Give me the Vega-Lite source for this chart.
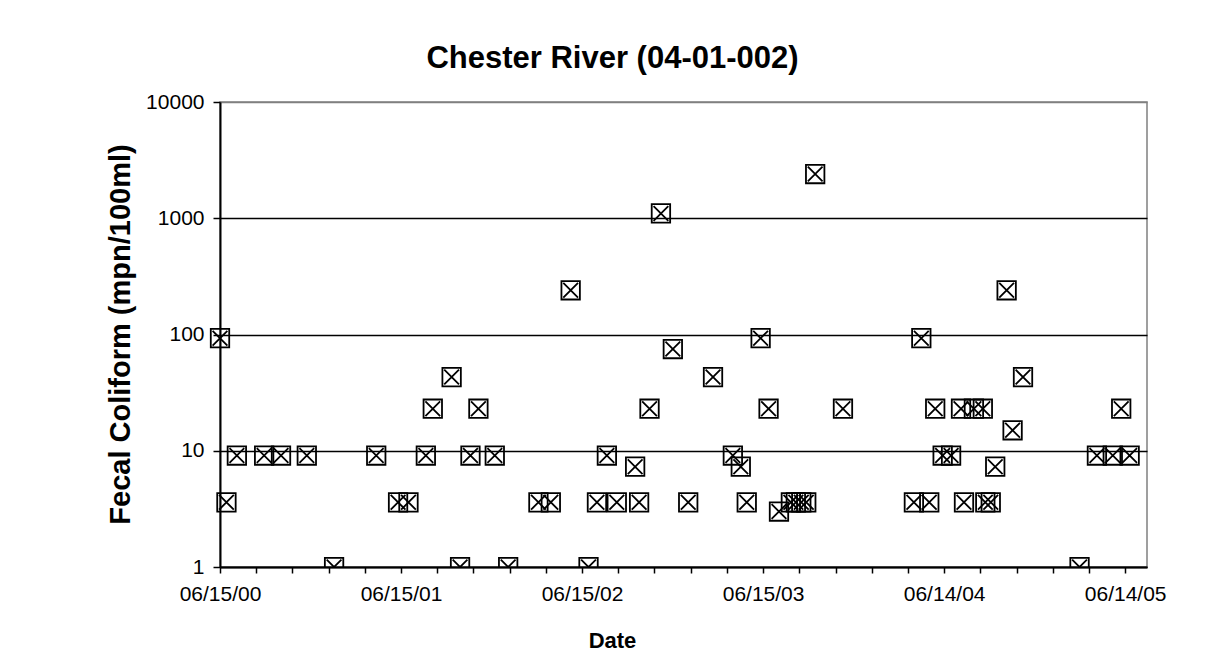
{
  "$schema": "https://vega.github.io/schema/vega-lite/v6.json",
  "width": 927,
  "height": 465,
  "autosize": {"type": "none"},
  "padding": {"left": 220, "top": 102, "right": 68, "bottom": 91},
  "background": "white",
  "config": {
    "font": "Liberation Sans",
    "view": {"stroke": "#808080", "strokeWidth": 1.5}
  },
  "title": {
    "text": "Chester River (04-01-002)",
    "font": "Liberation Sans",
    "fontSize": 31,
    "fontWeight": "bold",
    "color": "black",
    "anchor": "middle",
    "dx": -71,
    "dy": 43,
    "baseline": "alphabetic",
    "offset": 35
  },
  "data": {
    "values": [
      {"d": "2000-06-15", "v": 93},
      {"d": "2000-06-28", "v": 3.6},
      {"d": "2000-07-19", "v": 9.1},
      {"d": "2000-09-12", "v": 9.1},
      {"d": "2000-10-16", "v": 9.1},
      {"d": "2000-12-07", "v": 9.1},
      {"d": "2001-01-31", "v": 1},
      {"d": "2001-04-26", "v": 9.1},
      {"d": "2001-06-09", "v": 3.6},
      {"d": "2001-06-30", "v": 3.6},
      {"d": "2001-08-04", "v": 9.1},
      {"d": "2001-08-18", "v": 23},
      {"d": "2001-09-25", "v": 43},
      {"d": "2001-10-12", "v": 1},
      {"d": "2001-11-02", "v": 9.1},
      {"d": "2001-11-18", "v": 23},
      {"d": "2001-12-21", "v": 9.1},
      {"d": "2002-01-17", "v": 1},
      {"d": "2002-03-19", "v": 3.6},
      {"d": "2002-04-13", "v": 3.6},
      {"d": "2002-05-23", "v": 240},
      {"d": "2002-06-28", "v": 1},
      {"d": "2002-07-15", "v": 3.6},
      {"d": "2002-08-04", "v": 9.1},
      {"d": "2002-08-24", "v": 3.6},
      {"d": "2002-09-30", "v": 7.3},
      {"d": "2002-10-08", "v": 3.6},
      {"d": "2002-10-29", "v": 23},
      {"d": "2002-11-21", "v": 1100},
      {"d": "2002-12-15", "v": 75},
      {"d": "2003-01-15", "v": 3.6},
      {"d": "2003-03-06", "v": 43},
      {"d": "2003-04-15", "v": 9.1},
      {"d": "2003-05-01", "v": 7.3},
      {"d": "2003-05-13", "v": 3.6},
      {"d": "2003-06-10", "v": 93},
      {"d": "2003-06-26", "v": 23},
      {"d": "2003-07-17", "v": 3.0},
      {"d": "2003-08-10", "v": 3.6},
      {"d": "2003-08-20", "v": 3.6},
      {"d": "2003-08-31", "v": 3.6},
      {"d": "2003-09-10", "v": 3.6},
      {"d": "2003-09-28", "v": 2400},
      {"d": "2003-11-23", "v": 23},
      {"d": "2004-04-14", "v": 3.6},
      {"d": "2004-04-29", "v": 93},
      {"d": "2004-05-15", "v": 3.6},
      {"d": "2004-05-27", "v": 23},
      {"d": "2004-06-11", "v": 9.1},
      {"d": "2004-06-28", "v": 9.1},
      {"d": "2004-07-18", "v": 23},
      {"d": "2004-07-24", "v": 3.6},
      {"d": "2004-08-13", "v": 23},
      {"d": "2004-08-31", "v": 23},
      {"d": "2004-09-05", "v": 3.6},
      {"d": "2004-09-16", "v": 3.6},
      {"d": "2004-09-25", "v": 7.3},
      {"d": "2004-10-18", "v": 240},
      {"d": "2004-10-30", "v": 15},
      {"d": "2004-11-20", "v": 43},
      {"d": "2005-03-14", "v": 1},
      {"d": "2005-04-18", "v": 9.1},
      {"d": "2005-05-20", "v": 9.1},
      {"d": "2005-06-06", "v": 23},
      {"d": "2005-06-23", "v": 9.1}
    ]
  },
  "encoding": {
    "x": {
      "field": "d",
      "type": "temporal",
      "title": "Date",
      "scale": {
        "type": "utc",
        "domain": [
          {"year": 2000, "month": 6, "date": 15, "utc": true},
          {"year": 2005, "month": 7, "date": 28, "utc": true}
        ],
        "nice": false
      },
      "axis": {
        "values": [
          {"year": 2000, "month": 6, "date": 15, "utc": true},
          {"year": 2000, "month": 8, "date": 27, "utc": true},
          {"year": 2000, "month": 11, "date": 8, "utc": true},
          {"year": 2001, "month": 1, "date": 20, "utc": true},
          {"year": 2001, "month": 4, "date": 3, "utc": true},
          {"year": 2001, "month": 6, "date": 15, "utc": true},
          {"year": 2001, "month": 8, "date": 27, "utc": true},
          {"year": 2001, "month": 11, "date": 8, "utc": true},
          {"year": 2002, "month": 1, "date": 20, "utc": true},
          {"year": 2002, "month": 4, "date": 3, "utc": true},
          {"year": 2002, "month": 6, "date": 15, "utc": true},
          {"year": 2002, "month": 8, "date": 27, "utc": true},
          {"year": 2002, "month": 11, "date": 8, "utc": true},
          {"year": 2003, "month": 1, "date": 20, "utc": true},
          {"year": 2003, "month": 4, "date": 3, "utc": true},
          {"year": 2003, "month": 6, "date": 15, "utc": true},
          {"year": 2003, "month": 8, "date": 27, "utc": true},
          {"year": 2003, "month": 11, "date": 8, "utc": true},
          {"year": 2004, "month": 1, "date": 20, "utc": true},
          {"year": 2004, "month": 4, "date": 2, "utc": true},
          {"year": 2004, "month": 6, "date": 14, "utc": true},
          {"year": 2004, "month": 8, "date": 26, "utc": true},
          {"year": 2004, "month": 11, "date": 7, "utc": true},
          {"year": 2005, "month": 1, "date": 19, "utc": true},
          {"year": 2005, "month": 4, "date": 2, "utc": true},
          {"year": 2005, "month": 6, "date": 14, "utc": true}
        ],
        "labelExpr": "(round((datum.value - 961027200000) / 86400000) % 365 == 0) ? utcFormat(datum.value, '%m/%d/%y') : ''",
        "labelOverlap": false,
        "labelFlush": false,
        "labelFont": "Liberation Sans",
        "labelFontSize": 21,
        "labelColor": "black",
        "labelPadding": 10,
        "tickSize": 6,
        "tickColor": "black",
        "tickWidth": 1.5,
        "domainColor": "black",
        "domainWidth": 2,
        "grid": false,
        "titleFont": "Liberation Sans",
        "titleFontSize": 22,
        "titleFontWeight": "bold",
        "titleColor": "black",
        "titleX": 392,
        "titleY": 73,
        "titleBaseline": "middle"
      }
    },
    "y": {
      "field": "v",
      "type": "quantitative",
      "title": "Fecal Coliform (mpn/100ml)",
      "scale": {"type": "log", "domain": [1, 10000], "nice": false},
      "axis": {
        "values": [1, 10, 100, 1000, 10000],
        "format": "d",
        "labelFont": "Liberation Sans",
        "labelFontSize": 21,
        "labelColor": "black",
        "labelPadding": 9,
        "tickSize": 7,
        "tickColor": "black",
        "tickWidth": 1.5,
        "domainColor": "black",
        "domainWidth": 2,
        "grid": true,
        "gridColor": {"condition": {"test": "datum.value == 10000", "value": "#808080"}, "value": "black"},
        "gridWidth": 1.5,
        "gridOpacity": 1,
        "titleFont": "Liberation Sans",
        "titleFontSize": 29,
        "titleFontWeight": "bold",
        "titleColor": "black",
        "titleAngle": -90,
        "titleX": -100,
        "titleY": 232,
        "titleBaseline": "middle",
        "titleAlign": "center"
      }
    }
  },
  "layer": [
    {
      "transform": [{"filter": "datum.v > 1"}],
      "mark": {
        "type": "point",
        "shape": "M-1,-1H1V1H-1Z M-0.8,-0.8L0.8,0.8 M-0.8,0.8L0.8,-0.8",
        "size": 340,
        "filled": false,
        "stroke": "black",
        "strokeWidth": 1.8,
        "opacity": 1
      }
    },
    {
      "transform": [{"filter": "datum.v <= 1"}],
      "mark": {
        "type": "point",
        "shape": "M-1,-1H1V1H-1Z M-0.8,-0.8L0.8,0.8 M-0.8,0.8L0.8,-0.8",
        "size": 340,
        "filled": false,
        "stroke": "black",
        "strokeWidth": 1.8,
        "opacity": 1,
        "clip": true
      }
    }
  ]
}
